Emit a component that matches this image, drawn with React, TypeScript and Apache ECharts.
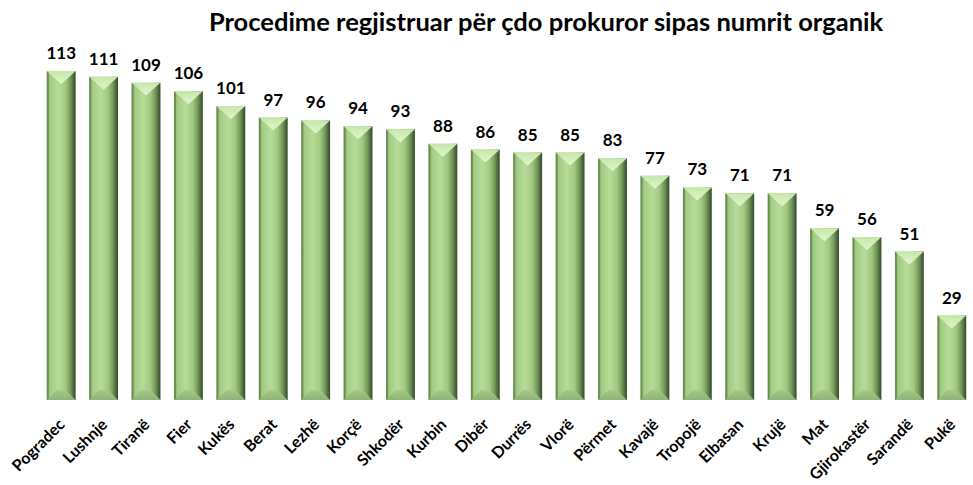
import React, { useEffect, useRef } from "react";
import * as echarts from "echarts";

const titleText = "Procedime regjistruar për çdo prokuror sipas numrit organik";
const categories = [
  "Pogradec", "Lushnje", "Tiranë", "Fier", "Kukës", "Berat", "Lezhë", "Korçë",
  "Shkodër", "Kurbin", "Dibër", "Durrës", "Vlorë", "Përmet", "Kavajë", "Tropojë",
  "Elbasan", "Krujë", "Mat", "Gjirokastër", "Sarandë", "Pukë",
];
const values = [113, 111, 109, 106, 101, 97, 96, 94, 93, 88, 86, 85, 85, 83, 77, 73, 71, 71, 59, 56, 51, 29];

const BAR_RATIO = 0.68;

export default function App() {
  const ref = useRef<HTMLDivElement>(null);
  useEffect(() => {
    document.body.style.margin = "0";
    const chart = echarts.init(ref.current!, null, { renderer: "svg" });
    const bodyGrad = new echarts.graphic.LinearGradient(0, 0, 1, 0, [
      { offset: 0, color: "#7fa663" },
      { offset: 0.12, color: "#a3cb84" },
      { offset: 0.4, color: "#b6dc97" },
      { offset: 0.65, color: "#a2c982" },
      { offset: 0.82, color: "#76995b" },
      { offset: 1, color: "#34492a" },
    ]);
    chart.setOption({
      animation: false,
      backgroundColor: "#ffffff",
      graphic: [
        {
          type: "text",
          x: 546,
          y: 8,
          style: {
            text: titleText,
            textAlign: "center",
            fill: "#000",
            font: "bold 25.5px Lato, 'Open Sans', sans-serif",
          },
        },
      ],
      grid: { left: 40, right: -6, top: 50.6, bottom: 85 },
      xAxis: {
        type: "category",
        data: categories,
        axisLine: { show: false },
        axisTick: { show: false },
        axisLabel: {
          rotate: 45,
          interval: 0,
          margin: 21,
          color: "#000",
          fontWeight: "bold",
          fontSize: 16,
          fontFamily: "Lato, 'Open Sans', sans-serif",
        },
      },
      yAxis: { type: "value", min: 0, max: 120, show: false, splitLine: { show: false } },
      series: [
        {
          type: "bar",
          data: values,
          barWidth: BAR_RATIO * 100 + "%",
          itemStyle: { color: bodyGrad },
          label: {
            show: true,
            position: "top",
            distance: 10,
            color: "#000",
            fontWeight: "bold",
            fontSize: 17,
            fontFamily: "Lato, 'Open Sans', sans-serif",
          },
        },
        {
          type: "custom",
          data: values.map((v, i) => [i, v]),
          z: 3,
          renderItem: (params: any, api: any) => {
            const i = api.value(0);
            const v = api.value(1);
            const top = api.coord([i, v]);
            const base = api.coord([i, 0]);
            const w = api.size([1, 0])[0] * BAR_RATIO;
            const l = top[0] - w / 2;
            const r = top[0] + w / 2;
            const t = top[1];
            const b = base[1];
            const h = Math.min(w * 0.45, (b - t) / 2);
            const hb = Math.min(w * 0.35, (b - t) / 3);
            return {
              type: "group",
              children: [
                {
                  type: "polygon",
                  shape: { points: [[l, t], [r, t], [top[0], t + h]] },
                  style: {
                    fill: new echarts.graphic.LinearGradient(0, 0, 0, 1, [
                      { offset: 0, color: "#c6e6a8" },
                      { offset: 1, color: "#e2f6cf" },
                    ]),
                  },
                },
                {
                  type: "polygon",
                  shape: { points: [[l, b], [r, b], [r - hb, b - hb], [l + hb, b - hb]] },
                  style: {
                    fill: new echarts.graphic.LinearGradient(0, 0, 0, 1, [
                      { offset: 0, color: "#a6c98a" },
                      { offset: 1, color: "#8fb374" },
                    ]),
                  },
                },
                {
                  type: "polygon",
                  shape: { points: [[l, t], [l + 2, t + 2], [l + 2, b - 2], [l, b]] },
                  style: { fill: "rgba(80,110,60,0.5)" },
                },
              ],
            };
          },
        },
      ],
    });
    return () => chart.dispose();
  }, []);
  return <div ref={ref} style={{ width: 973, height: 485 }} />;
}
